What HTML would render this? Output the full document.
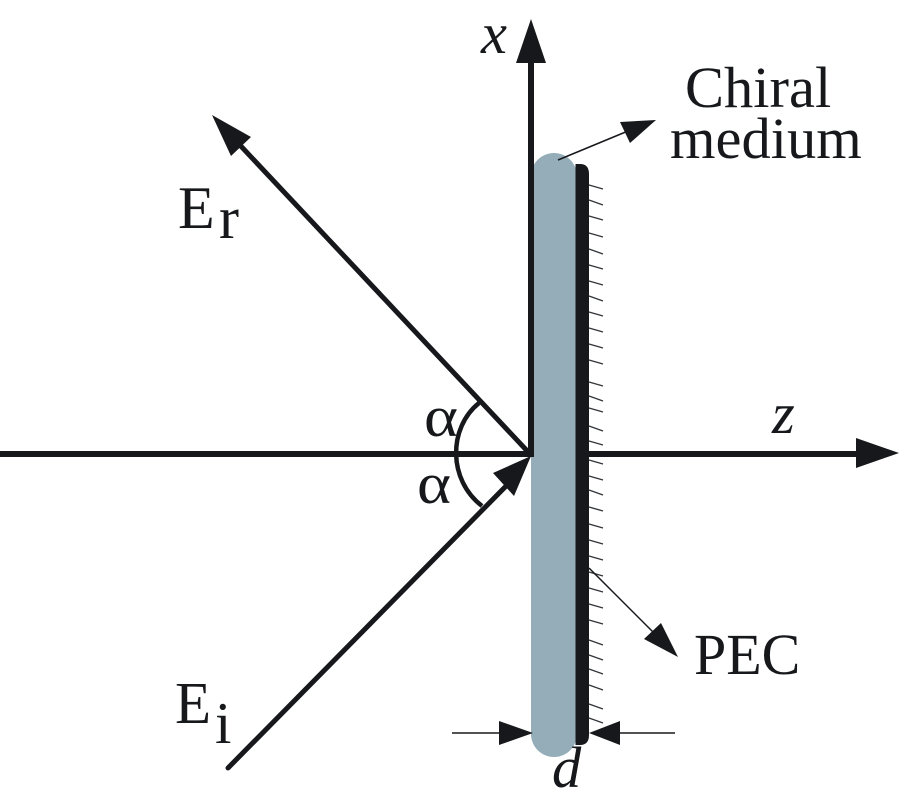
<!DOCTYPE html>
<html><head><meta charset="utf-8"><style>
html,body{margin:0;padding:0;background:#fff}
svg{display:block}
text{font-family:"Liberation Serif",serif;fill:#16181b}
</style></head><body>
<svg width="900" height="800" viewBox="0 0 900 800" xmlns="http://www.w3.org/2000/svg">
<rect width="900" height="800" fill="#fff"/>
<g stroke="#33363a" stroke-width="1.4">
<path d="M589 185l14 4M589 200l14 5M589 216l14 4M589 233l14 4M589 249l14 5M589 265l14 4M589 281l14 4M589 296l14 5M589 312l14 4M589 328l14 4M589 344l14 4M589 360l14 4M589 382l14 4M589 396l14 5M589 408l14 4M589 426l14 5M589 441l14 4M589 460l14 4M589 476l14 4M589 490l14 5M589 507l14 4M589 524l14 4M589 540l14 4M589 556l14 4M589 572l14 4M589 588l14 4M589 604l14 4M589 620l14 4M589 640l14 5M589 655l14 5M589 669l14 5M589 685l14 5M589 704l14 5M589 718l14 5"/>
</g>
<rect x="531" y="153" width="46" height="604" rx="23" ry="23" fill="#94adb9"/>
<path d="M575.500 164H580Q589 164 589 174V735Q589 745 580 745H575.500Z" fill="#16181b"/>
<g stroke="#16181b" fill="none" stroke-linecap="butt">
<line x1="0" y1="454" x2="531" y2="454" stroke-width="6"/>
<line x1="589" y1="454" x2="865" y2="454" stroke-width="6"/>
<line x1="531" y1="55" x2="531" y2="457" stroke-width="6"/>
<line x1="531" y1="455" x2="238" y2="143" stroke-width="5"/>
<line x1="228" y1="768" x2="510" y2="482" stroke-width="5" stroke-linecap="round"/>
<path d="M479 403C448 428 448 480 482 506" stroke-width="4.500"/>
</g>
<g fill="#16181b">
<polygon points="531,19 516,63 546,63"/>
<polygon points="899,453 856,438 856,468"/>
<polygon points="212,115 251,137 231,156"/>
<polygon points="531,456 493,473 514,496"/>
</g>
<g stroke="#16181b" stroke-width="1.500" fill="none">
<line x1="558" y1="160" x2="628" y2="131"/>
<line x1="589" y1="568" x2="655" y2="634"/>
<line x1="452" y1="733" x2="500" y2="733"/>
<line x1="618" y1="733" x2="675" y2="733"/>
</g>
<g fill="#16181b">
<polygon points="656,120 620,122 630,143"/>
<polygon points="678,657 644,639 661,623"/>
<polygon points="533,733 499,721 499,745"/>
<polygon points="589,733 620,721 620,745"/>
</g>
<g font-size="58.500">
<text x="685" y="107">Chiral</text>
<text x="670" y="158">medium</text>
<text x="694" y="674" font-size="58">PEC</text>
<text x="178" y="228" font-size="60">E</text>
<text x="219" y="238" font-size="60">r</text>
<text x="175" y="723" font-size="59">E</text>
<text x="215" y="743" font-size="59">i</text>
<text x="481" y="53" font-style="italic">x</text>
<text x="772" y="433" font-style="italic">z</text>
<text x="552" y="787" font-style="italic">d</text>
<text transform="translate(424 436) scale(1.12 1)" font-size="58">α</text>
<text transform="translate(417 503) scale(1.12 1)" font-size="58">α</text>
</g>
</svg>
</body></html>
